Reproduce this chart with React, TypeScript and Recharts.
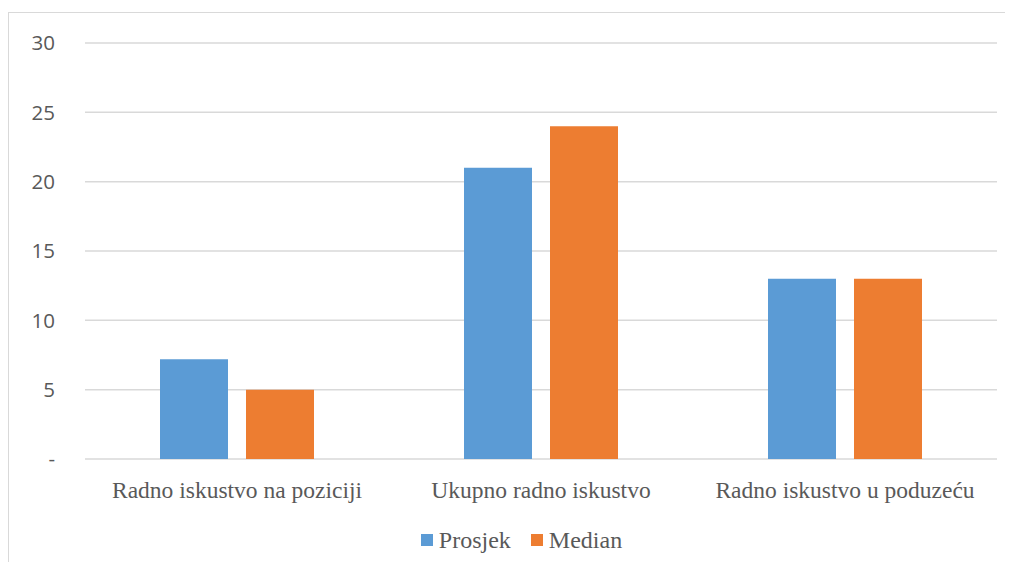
import React from "react";
import { BarChart, Bar, XAxis, YAxis, CartesianGrid } from "recharts";

const categories = ["Radno iskustvo na poziciji", "Ukupno radno iskustvo", "Radno iskustvo u poduzeću"];
const prosjek = [7.2, 21, 13];
const median = [5, 24, 13];
const yTicks = [0, 5, 10, 15, 20, 25, 30];
const seriesNames = ["Prosjek", "Median"];
const seriesColors = ["#5B9BD5", "#ED7D31"];

const data = categories.map((name, i) => ({ name, Prosjek: prosjek[i], Median: median[i] }));

const serif = "'Liberation Serif', 'Times New Roman', serif";

export default function App() {
  return (
    <div style={{ margin: -8, position: "relative", width: 1013, height: 570, overflow: "hidden", background: "#fff" }}>
      <div
        style={{
          position: "absolute",
          left: 8,
          top: 12,
          width: 1100,
          height: 700,
          borderTop: "1px solid #d9d9d9",
          borderLeft: "1px solid #d9d9d9",
          boxSizing: "border-box",
        }}
      />
      <div style={{ position: "absolute", left: 0, top: 0 }}>
        <BarChart
          width={1013}
          height={570}
          data={data}
          margin={{ top: 43, right: 16, left: 0, bottom: 61 }}
          barSize={68}
          barGap={18}
        >
          <CartesianGrid vertical={false} stroke="#d9d9d9" strokeWidth={1.5} />
          <XAxis
            dataKey="name"
            axisLine={false}
            tickLine={false}
            tickSize={0}
            tickMargin={22}
            height={50}
            interval={0}
            tick={{ fill: "#595959", fontSize: 23.5, fontFamily: serif }}
          />
          <YAxis
            width={85}
            domain={[0, 30]}
            ticks={yTicks}
            interval={0}
            axisLine={false}
            tickLine={false}
            tickSize={0}
            tickMargin={30}
            tickFormatter={(v: number) => (v === 0 ? "-" : String(v))}
            tick={{ fill: "#595959", fontSize: 20.5, fontFamily: "'Open Sans', 'Liberation Sans', sans-serif" }}
          />
          <Bar dataKey="Prosjek" fill={seriesColors[0]} isAnimationActive={false} />
          <Bar dataKey="Median" fill={seriesColors[1]} isAnimationActive={false} />
        </BarChart>
      </div>
      <div
        style={{
          position: "absolute",
          top: 524,
          left: 15,
          width: 1013,
          display: "flex",
          justifyContent: "center",
          alignItems: "center",
          gap: 20,
          fontFamily: serif,
          fontSize: 24,
          color: "#595959",
          lineHeight: "32px",
        }}
      >
        {seriesNames.map((n, i) => (
          <div key={n} style={{ display: "flex", alignItems: "center" }}>
            <span style={{ display: "inline-block", width: 12, height: 12, background: seriesColors[i], marginRight: 6 }} />
            <span>{n}</span>
          </div>
        ))}
      </div>
    </div>
  );
}
